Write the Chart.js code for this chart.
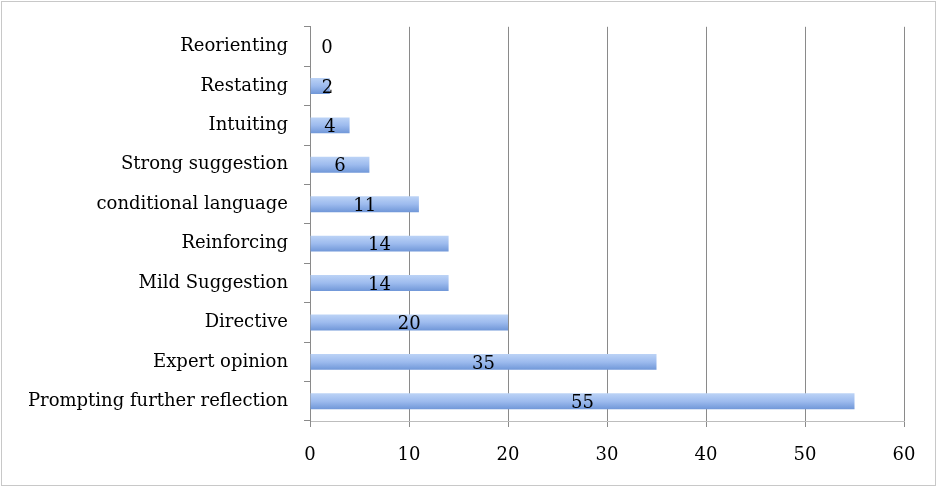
<!DOCTYPE html>
<html>
<head>
<meta charset="utf-8">
<script src="https://cdn.jsdelivr.net/npm/chart.js@4"></script>
<style>
  html, body { margin: 0; padding: 0; background: #fff; }
  #wrap { position: absolute; left: 0; top: 0; width: 938px; height: 488px; }
  #frame { position: absolute; left: 1px; top: 1px; width: 933px; height: 483px; border: 1px solid #c8c8c8; pointer-events: none; }
</style>
</head>
<body>
<div id="wrap"><canvas id="c" width="938" height="488"></canvas></div>
<div id="frame"></div>
<script>
const categories = ["Reorienting", "Restating", "Intuiting", "Strong suggestion", "conditional language", "Reinforcing", "Mild Suggestion", "Directive", "Expert opinion", "Prompting further reflection"];
const counts = [0, 2, 4, 6, 11, 14, 14, 20, 35, 55];
const xTicks = [0, 10, 20, 30, 40, 50, 60];

const FONT = "'DejaVu Serif', 'Liberation Serif', serif";

function barGradient(ctx) {
  const chart = ctx.chart;
  const ys = chart.scales && chart.scales.y;
  if (!ys || ctx.dataIndex === undefined) return '#9bb9ee';
  const yc = ys.getPixelForValue(ctx.dataIndex);
  if (!isFinite(yc)) return '#9bb9ee';
  const g = chart.ctx.createLinearGradient(0, yc - 8, 0, yc + 8);
  g.addColorStop(0, '#bcd3f6');
  g.addColorStop(0.5, '#9dbbee');
  g.addColorStop(1, '#7097d8');
  return g;
}

const labelPlugin = {
  id: 'barLabels',
  afterDatasetsDraw(chart) {
    const meta = chart.getDatasetMeta(0);
    const c = chart.ctx;
    c.save();
    c.font = "18px " + FONT;
    c.fillStyle = '#000';
    c.textAlign = 'center';
    c.textBaseline = 'middle';
    meta.data.forEach((el, i) => {
      const base = el.base;
      let x = (base + el.x) / 2;
      x = Math.max(x, base + 17);
      c.fillText(String(counts[i]), x, el.y + 2);
    });
    c.restore();
  }
};

new Chart(document.getElementById('c'), {
  type: 'bar',
  data: {
    labels: categories,
    datasets: [{
      data: counts,
      backgroundColor: barGradient,
      borderWidth: 0,
      barPercentage: 0.8,
      categoryPercentage: 0.505
    }]
  },
  options: {
    indexAxis: 'y',
    responsive: false,
    animation: false,
    devicePixelRatio: 1,
    layout: { padding: { top: 25, right: 34, left: 0, bottom: 0 } },
    plugins: { legend: { display: false }, tooltip: { enabled: false } },
    scales: {
      x: {
        min: 0, max: 60,
        afterBuildTicks(scale) { scale.ticks = xTicks.map(v => ({ value: v })); },
        afterFit(scale) { scale.height = 67; },
        grid: { color: '#8a8a8a', lineWidth: 1, tickLength: 6, tickColor: '#8a8a8a' },
        border: { display: true, color: '#bdbdbd' },
        ticks: { color: '#000', font: { family: FONT, size: 18 }, padding: 18 }
      },
      y: {
        afterFit(scale) { scale.width = 310; },
        grid: { drawOnChartArea: false, tickLength: 6, tickColor: '#8a8a8a', offset: true },
        border: { display: true, color: '#8a8a8a' },
        ticks: { color: '#000', font: { family: FONT, size: 18 }, padding: 16 }
      }
    }
  },
  plugins: [labelPlugin]
});
</script>
</body>
</html>
